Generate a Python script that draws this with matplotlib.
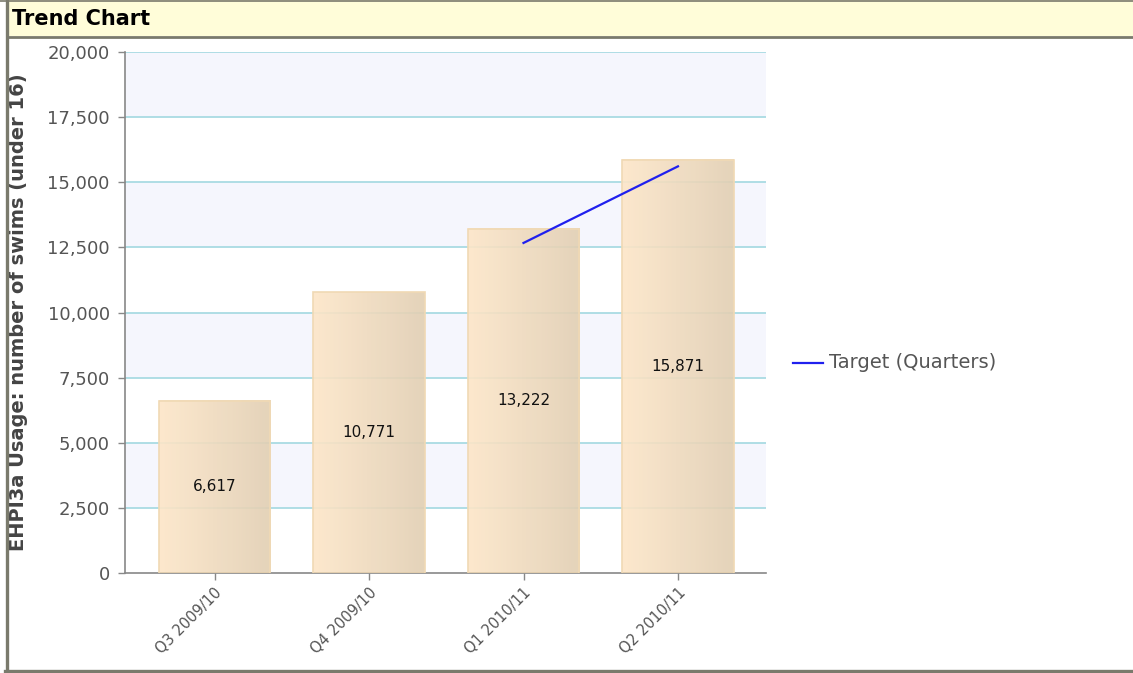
import matplotlib
matplotlib.use('Agg')
import numpy as np
import matplotlib.pyplot as plt
from matplotlib.patches import Rectangle
from matplotlib.lines import Line2D
from matplotlib.colors import LinearSegmentedColormap

plt.rcParams['font.family'] = ['DejaVu Sans']

# data
quarters = ['Q3 2009/10', 'Q4 2009/10', 'Q1 2010/11', 'Q2 2010/11']
swims = [6617, 10771, 13222, 15871]
target_idx = [2, 3]
target_vals = [12670, 15610]
y_ticks = [0, 2500, 5000, 7500, 10000, 12500, 15000, 17500, 20000]

W, H = 1133, 673
fig = plt.figure(figsize=(W / 100, H / 100), dpi=100)


def fx(px):
    return px / W


def fy(py):
    return 1 - py / H


# frame and header bar
fig.patches.append(Rectangle((fx(7), fy(36)), 1 - fx(7), fy(0) - fy(36),
                             transform=fig.transFigure, facecolor='#fffdd9',
                             edgecolor='none', zorder=0))
border = '#7a7a6c'
fig.lines.append(Line2D([fx(0), 1], [fy(0.5), fy(0.5)], transform=fig.transFigure, color=border, lw=1.2))
fig.lines.append(Line2D([fx(7), 1], [fy(37), fy(37)], transform=fig.transFigure, color=border, lw=2))
fig.lines.append(Line2D([fx(6.5), fx(6.5)], [fy(0), fy(671)], transform=fig.transFigure, color=border, lw=2.4))
fig.lines.append(Line2D([fx(5), 1], [fy(670.5), fy(670.5)], transform=fig.transFigure, color=border, lw=2.4))
fig.text(fx(12), fy(19), 'Trend Chart', fontsize=15, fontweight='bold', color='black',
         ha='left', va='center')

ax = fig.add_axes([fx(125), fy(573), fx(766) - fx(125), fy(52) - fy(573)])
x = np.arange(len(quarters))
xlim = (-0.58, 3.57)

# alternate bands
for i in range(len(y_ticks) - 1):
    if i % 2 == 1:
        ax.axhspan(y_ticks[i], y_ticks[i + 1], color='#f5f6fd', zorder=0, lw=0)
for t in y_ticks[1:]:
    ax.axhline(t, color='#a9dbe3', lw=1.3, zorder=1)

# gradient bars
cmap = LinearSegmentedColormap.from_list('bar', ['#fde6c8', '#e2cfb3'])
grad = np.linspace(0, 1, 64).reshape(1, -1)
bw = 0.72
for xi, v in zip(x, swims):
    ax.imshow(grad, cmap=cmap, extent=[xi - bw / 2, xi + bw / 2, 0, v], aspect='auto',
              zorder=2, alpha=0.9)
    ax.add_patch(Rectangle((xi - bw / 2, 0), bw, v, facecolor='none', edgecolor='#f0d9b4',
                           lw=1.2, zorder=3))
    ax.text(xi, v / 2, f'{v:,}', ha='center', va='center', fontsize=11, color='#111111', zorder=5)

ax.plot(target_idx, target_vals, color='#2020ee', lw=1.6, zorder=4)

ax.set_xlim(xlim)
ax.set_ylim(0, 20000)
ax.set_xticks(x)
ax.set_xticklabels(quarters, rotation=45, ha='right', va='top', rotation_mode='anchor',
                   fontsize=10.5, color='#555555')
ax.set_yticks(y_ticks)
ax.set_yticklabels([f'{t:,}' for t in y_ticks], fontsize=13, color='#555555')
ax.tick_params(axis='both', colors='#888888', length=5, width=1)
ax.tick_params(axis='x', labelcolor='#555555', pad=4)
ax.tick_params(axis='y', labelcolor='#555555', pad=6)
for s in ['top', 'right']:
    ax.spines[s].set_visible(False)
for s in ['left', 'bottom']:
    ax.spines[s].set_color('#888888')
    ax.spines[s].set_linewidth(1.2)
ax.set_ylabel('EHPI3a Usage: number of swims (under 16)', fontsize=14, fontweight='bold',
              color='#444444')
ax.yaxis.set_label_coords((28 - 125) / 641, 0.5)

# legend as plain line + text
fig.lines.append(Line2D([fx(793), fx(823)], [fy(363), fy(363)], transform=fig.transFigure,
                        color='#2020ee', lw=1.6))
fig.text(fx(829), fy(363), 'Target (Quarters)', fontsize=14, color='#555555',
         ha='left', va='center')

fig.savefig('out.png', dpi=100)
